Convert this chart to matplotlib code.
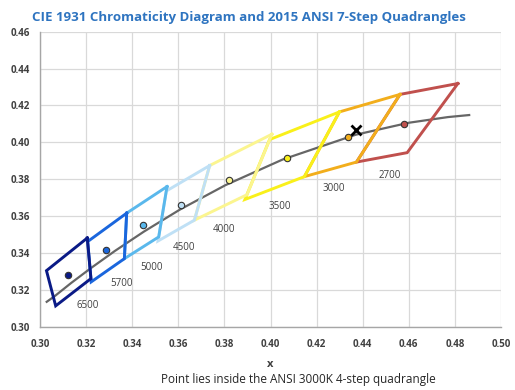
import matplotlib
matplotlib.use("Agg")
import matplotlib.pyplot as plt

plt.rcParams['font.family'] = ['Open Sans', 'DejaVu Sans']

# Quadrangle labels (CCT) and styles
cct_labels = ["2700", "3000", "3500", "4000", "4500", "5000", "5700", "6500"]
quad_colors = ["#c0504d", "#f2ae1c", "#f9f01a", "#fbf58f", "#bfe0f5", "#5ab8ec", "#1a66dd", "#0a1a86"]

# Quadrangle vertices (x lists and y lists), 2015 ANSI C78.377 7-step
quad_x = [
    [0.4813, 0.4562, 0.4373, 0.4593],
    [0.4562, 0.4299, 0.4147, 0.4373],
    [0.4299, 0.3996, 0.3889, 0.4147],
    [0.4006, 0.3736, 0.3670, 0.3898],
    [0.3736, 0.3548, 0.3512, 0.3670],
    [0.3551, 0.3376, 0.3366, 0.3515],
    [0.3376, 0.3207, 0.3222, 0.3366],
    [0.3205, 0.3028, 0.3068, 0.3221],
]
quad_y = [
    [0.4319, 0.4260, 0.3893, 0.3944],
    [0.4260, 0.4165, 0.3814, 0.3893],
    [0.4165, 0.4015, 0.3690, 0.3814],
    [0.4044, 0.3874, 0.3578, 0.3716],
    [0.3874, 0.3736, 0.3465, 0.3578],
    [0.3760, 0.3616, 0.3369, 0.3487],
    [0.3616, 0.3462, 0.3243, 0.3369],
    [0.3481, 0.3304, 0.3113, 0.3261],
]

# Quadrangle centers
center_x = [0.4578, 0.4338, 0.4073, 0.3818, 0.3611, 0.3447, 0.3287, 0.3123]
center_y = [0.4101, 0.4030, 0.3917, 0.3797, 0.3658, 0.3553, 0.3417, 0.3282]

# Label positions
label_x = [0.4518, 0.4275, 0.4041, 0.3800, 0.3626, 0.3484, 0.3354, 0.3206]
label_y = [0.3819, 0.3747, 0.3651, 0.3528, 0.3431, 0.3322, 0.3233, 0.3114]

# Planckian locus
locus_x = [0.3029, 0.3064, 0.3135, 0.3221, 0.3325, 0.3451, 0.3608, 0.3805, 0.4053, 0.4369, 0.4599, 0.4770, 0.4862]
locus_y = [0.3135, 0.3166, 0.3237, 0.3318, 0.3411, 0.3516, 0.3636, 0.3768, 0.3907, 0.4041, 0.4106, 0.4137, 0.4148]

# Test point
test_x = [0.4370]
test_y = [0.4067]

x_ticks = [0.30, 0.32, 0.34, 0.36, 0.38, 0.40, 0.42, 0.44, 0.46, 0.48, 0.50]
y_ticks = [0.30, 0.32, 0.34, 0.36, 0.38, 0.40, 0.42, 0.44, 0.46]

fig = plt.figure(figsize=(5.15, 3.9), dpi=100)
ax = fig.add_axes([0.0777, 0.1623, 0.8951, 0.7564])

ax.plot(locus_x, locus_y, color="#666666", lw=1.6, zorder=2)

for qx, qy, c in zip(quad_x, quad_y, quad_colors):
    ax.plot(qx + [qx[0]], qy + [qy[0]], color=c, lw=2.1, solid_joinstyle="miter", zorder=3)

for cx, cy, c in zip(center_x, center_y, quad_colors):
    ax.plot([cx], [cy], marker="o", ms=4.6, mfc=c, mec="#333333", mew=0.8, ls="none", zorder=5)

for lx, ly, t in zip(label_x, label_y, cct_labels):
    ax.text(lx, ly, t, fontsize=7, color="#404040", ha="center", va="center", zorder=6)

ax.plot(test_x, test_y, marker="x", ms=7, mec="black", mew=2, ls="none", zorder=7)

ax.set_xlim(0.30, 0.50)
ax.set_ylim(0.30, 0.46)
ax.set_xticks(x_ticks)
ax.set_yticks(y_ticks)
ax.set_xticklabels([f"{v:.2f}" for v in x_ticks])
ax.set_yticklabels([f"{v:.2f}" for v in y_ticks])
ax.tick_params(axis="x", length=0, labelsize=7, labelcolor="#404040", pad=9)
ax.tick_params(axis="y", length=0, labelsize=7, labelcolor="#404040", pad=7)
for lab in ax.get_xticklabels() + ax.get_yticklabels():
    lab.set_fontweight("bold")
ax.grid(True, color="#d9d9d9", lw=0.9, zorder=0)
ax.set_axisbelow(True)
for s in ["top", "right"]:
    ax.spines[s].set_visible(False)
for s in ["left", "bottom"]:
    ax.spines[s].set_color("#a6a6a6")
    ax.spines[s].set_linewidth(1.0)

ax.set_xlabel("x", fontsize=8, fontweight="bold", color="#404040", labelpad=6)

fig.text(0.484, 0.955, "CIE 1931 Chromaticity Diagram and 2015 ANSI 7-Step Quadrangles",
         fontsize=9.5, fontweight="bold", color="#2e74c0", ha="center", va="center")
fig.text(0.579, 0.027, "Point lies inside the ANSI 3000K 4-step quadrangle",
         fontsize=8.5, color="#262626", ha="center", va="center")

fig.savefig("out.png", dpi=100)
